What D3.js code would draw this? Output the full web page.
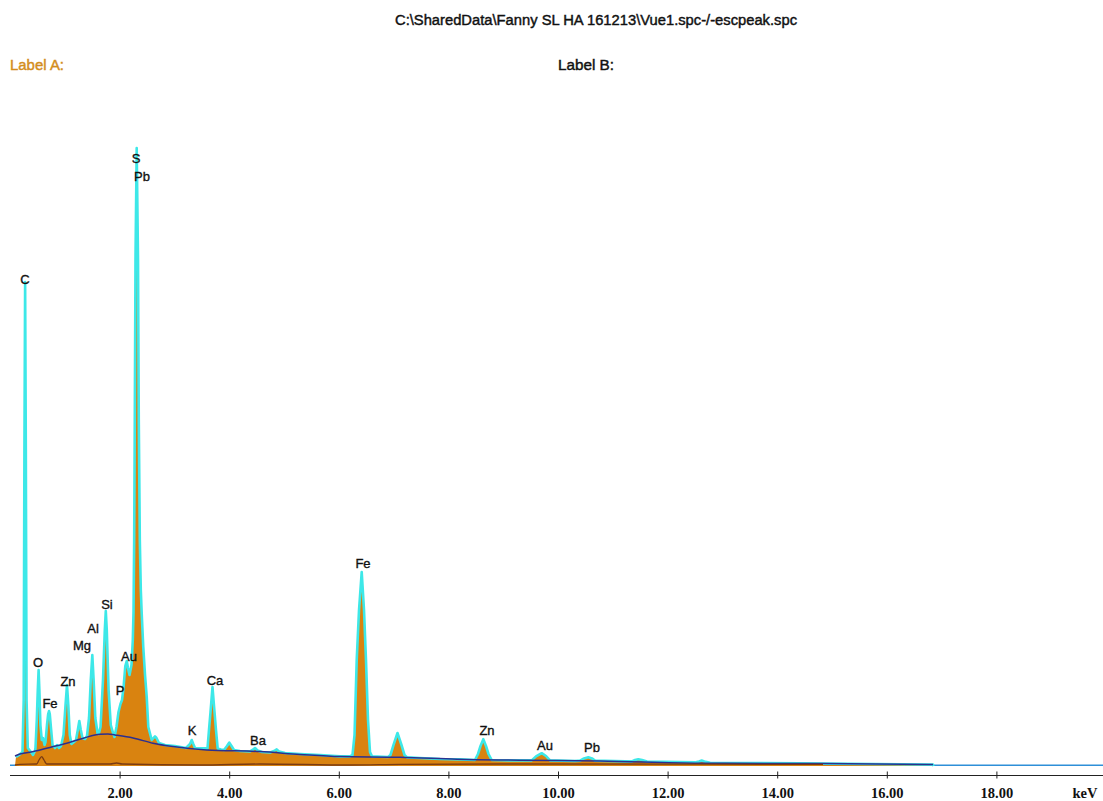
<!DOCTYPE html>
<html><head><meta charset="utf-8">
<script src="https://cdn.jsdelivr.net/npm/d3@7"></script>
<style>body{margin:0;background:#fff}svg{display:block}</style>
</head><body><svg id="c" width="1103" height="801"></svg>
<script>
// ---- data (keV / counts) ----
const specEnergy = [0,0.091,0.109,0.164,0.228,0.250,0.263,0.276,0.289,0.302,0.325,0.383,0.420,0.456,0.465,0.489,0.507,0.522,0.536,0.555,0.580,0.602,0.630,0.648,0.675,0.697,0.712,0.726,0.748,0.776,0.821,0.858,0.894,0.931,0.976,1.013,1.040,1.064,1.091,1.122,1.168,1.204,1.237,1.265,1.292,1.323,1.369,1.405,1.442,1.474,1.502,1.526,1.557,1.597,1.619,1.652,1.697,1.730,1.748,1.766,1.799,1.839,1.880,1.907,1.943,1.980,2.016,2.044,2.071,2.104,2.130,2.153,2.181,2.217,2.241,2.254,2.266,2.277,2.290,2.312,2.336,2.350,2.369,2.387,2.403,2.432,2.464,2.495,2.524,2.586,2.619,2.646,2.673,2.719,2.828,3.011,3.212,3.285,3.316,3.345,3.376,3.467,3.604,3.631,3.659,3.695,3.732,3.759,3.790,3.850,3.905,3.960,4.002,4.042,4.088,4.197,4.380,4.425,4.471,4.516,4.599,4.745,4.818,4.867,4.909,5.018,5.292,5.657,6.022,6.204,6.250,6.287,6.327,6.369,6.418,6.460,6.496,6.533,6.569,6.606,6.898,6.943,6.998,7.071,7.144,7.199,7.245,7.482,7.847,8.212,8.485,8.540,8.586,8.637,8.686,8.732,8.790,9.124,9.520,9.599,9.703,9.781,9.854,10.310,10.401,10.474,10.553,10.620,10.675,11.223,11.350,11.405,11.465,11.533,11.624,12.500,12.573,12.622,12.673,12.774,14.416,16.241,16.843,16.852];
const specCounts = [0,0,45,55,70,330,1580,2420,1580,330,90,70,55,75,90,230,380,480,380,205,130,140,105,120,205,260,275,260,190,105,90,105,90,100,155,305,405,305,155,110,120,130,180,225,180,140,135,150,240,430,555,430,240,165,160,195,430,680,775,680,380,205,165,145,195,270,310,330,390,500,525,490,455,505,630,770,1130,1730,2530,3090,2530,1730,1130,880,765,595,455,345,195,130,140,148,140,115,105,100,90,110,130,110,90,88,88,180,270,395,270,180,88,83,80,100,117,100,80,75,73,80,90,78,70,68,75,83,73,65,60,55,48,48,55,155,530,780,970,780,530,230,70,48,45,55,105,165,105,55,43,40,35,33,30,60,100,134,100,60,30,28,28,48,64,50,28,25,27,38,44,38,27,23,23,30,34,30,22,18,23,27,23,16,13,9,7,0];

const bgEnergy = [0.091,0.182,0.425,0.730,1.035,1.338,1.642,1.788,1.916,2.245,2.609,2.974,3.589,4.562,5.292,6.022,7.117,8.157,9.307,10.766,12.591,14.836,16.843];
const bgCounts = [50,60,72,93,114,139,159,160,155,140,114,97,80,72,58,47,44,34,29,25,14,12,7];

const lowEnergy = [0.091,0.182,0.487,0.529,0.578,0.620,0.670,1.825,1.947,2.044,3.467,4.562,6.204,7.117,8.942,12.591,14.836];
const lowCounts = [5,8,10,30,47,30,10,10,15,10,5,10,5,8,10,9,8];

const peakNames = ["C","S","Pb","Si","Al","Mg","O","Au","Zn","P","Fe","Ca","K","Ba","Fe","Zn","Au","Pb"];
const peakLabelEnergy = [0.274,2.299,2.409,1.770,1.515,1.314,0.511,2.172,1.058,2.007,0.730,3.741,3.321,4.526,6.442,8.704,9.763,10.620];
const peakLabelCounts = [2435,3040,2950,810,690,605,520,550,425,380,315,430,180,130,1015,180,105,95];

const tickValues = [2,4,6,8,10,12,14,16,18];
const tickLabels = ["2.00","4.00","6.00","8.00","10.00","12.00","14.00","16.00","18.00"];
const titleText = "C:\\SharedData\\Fanny SL HA 161213\\Vue1.spc-/-escpeak.spc";
const labelA = "Label A:";
const labelB = "Label B:";
const unitLabel = "keV";

// ---- drawing ----
const svg = d3.select("#c");
const x = d3.scaleLinear().domain([0, 20]).range([10, 1106]);
const y = d3.scaleLinear().domain([0, 3100]).range([766, 146]);

const spec = specEnergy.map((e, i) => ({e, c: specCounts[i]}));
const bg = bgEnergy.map((e, i) => ({e, c: bgCounts[i]}));
const low = lowEnergy.map((e, i) => ({e, c: lowCounts[i]}));

const sans = "Liberation Sans, Arial, sans-serif";
// title + labels
svg.append("text").attr("x", 596).attr("y", 25).attr("text-anchor", "middle")
  .attr("font-family", sans).attr("font-size", 15.5)
  .attr("textLength", 402).attr("lengthAdjust", "spacingAndGlyphs")
  .attr("fill", "#111").attr("stroke", "#111").attr("stroke-width", 0.45).text(titleText);
svg.append("text").attr("x", 10).attr("y", 70)
  .attr("font-family", sans).attr("font-size", 15.5)
  .attr("textLength", 54).attr("lengthAdjust", "spacingAndGlyphs")
  .attr("fill", "#d38d1c").attr("stroke", "#d38d1c").attr("stroke-width", 0.45).text(labelA);
svg.append("text").attr("x", 558).attr("y", 70)
  .attr("font-family", sans).attr("font-size", 15.5)
  .attr("textLength", 56).attr("lengthAdjust", "spacingAndGlyphs")
  .attr("fill", "#111").attr("stroke", "#111").attr("stroke-width", 0.45).text(labelB);

// zero line
svg.append("path").datum([{e:0,c:0},{e:20,c:0}])
  .attr("d", d3.line().x(d => x(d.e)).y(d => y(d.c) - 0.8))
  .attr("stroke", "#2e8fd8").attr("stroke-width", 1.6).attr("fill", "none");

// spectrum fill
svg.append("path").datum(spec)
  .attr("d", d3.area().x(d => x(d.e)).y0(y(0)).y1(d => y(d.c)))
  .attr("fill", "#d98310");

// spectrum outline (cyan)
svg.append("path").datum(spec.filter(d => d.e > 0.1))
  .attr("d", d3.line().x(d => x(d.e)).y(d => y(d.c)))
  .attr("stroke", "#3de8e8").attr("stroke-width", 2.6).attr("fill", "none")
  .attr("stroke-linejoin", "round");

// background fit line
svg.append("path").datum(bg)
  .attr("d", d3.line().curve(d3.curveMonotoneX).x(d => x(d.e)).y(d => y(d.c)))
  .attr("stroke", "#2b2f90").attr("stroke-width", 1.5).attr("fill", "none");

// low trace (brown)
svg.append("path").datum(low)
  .attr("d", d3.line().curve(d3.curveMonotoneX).x(d => x(d.e)).y(d => y(d.c)))
  .attr("stroke", "#7a3b12").attr("stroke-width", 1.3).attr("fill", "none");

// peak labels
svg.append("g").selectAll("text").data(peakNames).join("text")
  .attr("x", (d, i) => x(peakLabelEnergy[i]))
  .attr("y", (d, i) => y(peakLabelCounts[i]) + 4.5)
  .attr("text-anchor", "middle")
  .attr("font-family", sans).attr("font-size", 13)
  .attr("fill", "#111").attr("stroke", "#111").attr("stroke-width", 0.35)
  .text(d => d);

// axis
const axis = d3.axisBottom(x).tickValues(tickValues)
  .tickFormat((d, i) => tickLabels[i]).tickSizeOuter(0).tickSizeInner(4);
const gAxis = svg.append("g").attr("transform", "translate(0,775)").call(axis);
gAxis.select(".domain").attr("d", `M${x(0)},0.5H1103`).attr("stroke", "#222").attr("stroke-width", 1.2);
gAxis.selectAll(".tick line").attr("y1", -3.5).attr("y2", 3.5).attr("stroke", "#222");
gAxis.selectAll(".tick text").attr("y", 23).attr("dy", null)
  .attr("font-family", "Liberation Serif, Times New Roman, serif")
  .attr("font-weight", "bold").attr("font-size", 14.5).attr("fill", "#111");
svg.append("text").attr("x", 1085).attr("y", 798).attr("text-anchor", "middle")
  .attr("font-family", "Liberation Serif, Times New Roman, serif")
  .attr("font-weight", "bold").attr("font-size", 14.5).attr("fill", "#111").text(unitLabel);
</script>
</body></html>
